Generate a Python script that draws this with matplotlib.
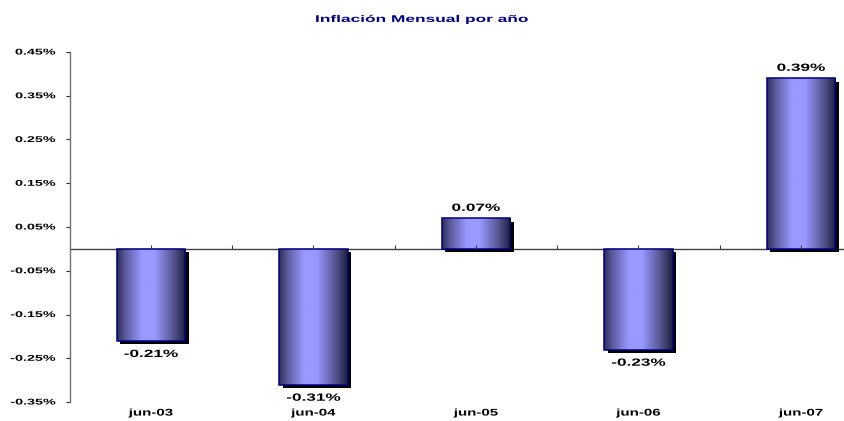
import numpy as np
import matplotlib
matplotlib.use("Agg")
import matplotlib.pyplot as plt
import matplotlib.patheffects as pe
from matplotlib.colors import LinearSegmentedColormap
from matplotlib.ticker import FuncFormatter
from matplotlib.transforms import Affine2D
from matplotlib.markers import TICKUP

# data
periods = ["jun-03", "jun-04", "jun-05", "jun-06", "jun-07"]
inflation = [-0.21, -0.31, 0.07, -0.23, 0.39]

plt.rcParams['font.family'] = ['Liberation Sans', 'DejaVu Sans']


class HStretch(pe.AbstractPathEffect):
    """Stretch text horizontally around an anchor (the reference text is wide)."""
    def __init__(self, sx, anchor='center'):
        super().__init__()
        self.sx = sx
        self.anchor = anchor

    def draw_path(self, renderer, gc, tpath, affine, rgbFace=None):
        ext = tpath.get_extents(affine)
        if self.anchor == 'right':
            cx = ext.x1
        elif self.anchor == 'left':
            cx = ext.x0
        else:
            cx = (ext.x0 + ext.x1) / 2
        t = affine + Affine2D().translate(-cx, 0).scale(self.sx, 1).translate(cx, 0)
        renderer.draw_path(gc, tpath, t, rgbFace)


fig = plt.figure(figsize=(8.44, 4.21), dpi=100)
# plot area runs past the right edge of the picture, as in the reference
ax = fig.add_axes([0.0826, 0.0451, 0.9627, 0.8314])

x = np.arange(len(periods))
bw = 0.42

# base bars with drop shadow
bars = ax.bar(x, inflation, width=bw, color='#9999ff', edgecolor='none', zorder=2,
              path_effects=[pe.SimplePatchShadow(offset=(2.5, -2.5), shadow_rgbFace='black', alpha=1.0),
                            pe.Normal()])

# horizontal gradient inside each bar
cmap = LinearSegmentedColormap.from_list(
    'cyl', [(0.0, '#2e2e58'), (0.12, '#5a5a9c'), (0.36, '#9999ff'),
            (0.55, '#9999ff'), (0.8, '#5a5a99'), (1.0, '#1e1e3c')])
grad = np.linspace(0, 1, 256).reshape(1, -1)
for b in bars:
    x0, y0 = b.get_x(), b.get_y()
    w, h = b.get_width(), b.get_height()
    im = ax.imshow(grad, cmap=cmap, aspect='auto', extent=[x0, x0 + w, y0, y0 + h],
                   zorder=3, interpolation='bicubic')
    im.set_clip_path(b)

# outlines
ax.bar(x, inflation, width=bw, fill=False, edgecolor='#000080', linewidth=1.1, zorder=4)

# value labels
for xi, v in zip(x, inflation):
    off = 7.5 if v >= 0 else -9.5
    ax.annotate(f"{v:.2f}%", (xi, v), xytext=(0, off), textcoords='offset points',
                ha='center', va='center', fontsize=7.5, fontweight='bold', color='black',
                path_effects=[HStretch(1.65)])

# zero line with small category ticks
ax.axhline(0, color='#404040', linewidth=1.0, zorder=1)
ax.plot(np.concatenate([x, x[:-1] + 0.5]), np.zeros(2 * len(x) - 1), linestyle='none',
        marker=TICKUP, markersize=3, color='#404040', markeredgewidth=0.8, zorder=5)

ax.set_xlim(-0.5, len(periods) - 0.5)
ax.set_ylim(-0.35, 0.45)
ax.set_yticks(np.arange(-0.35, 0.451, 0.1))
ax.yaxis.set_major_formatter(FuncFormatter(lambda v, p: f"{v:.2f}%"))
ax.set_xticks(x)
ax.set_xticklabels(periods)
ax.tick_params(axis='x', length=0, pad=4, labelsize=7)
ax.tick_params(axis='y', length=3, width=0.8, pad=7, labelsize=6, color='#303030')
for lbl in ax.get_xticklabels():
    lbl.set_fontweight('bold')
    lbl.set_path_effects([HStretch(1.55)])
for lbl in ax.get_yticklabels():
    lbl.set_fontweight('bold')
    lbl.set_path_effects([HStretch(1.72, 'right')])

for s in ['top', 'right', 'bottom']:
    ax.spines[s].set_visible(False)
ax.spines['left'].set_color('#707070')
ax.spines['left'].set_linewidth(1.0)

fig.text(0.5, 0.955, "Inflación Mensual por año", ha='center', va='center',
         fontsize=7, fontweight='bold', color='#000080',
         path_effects=[HStretch(1.78)])

fig.savefig("out.png", dpi=100)
